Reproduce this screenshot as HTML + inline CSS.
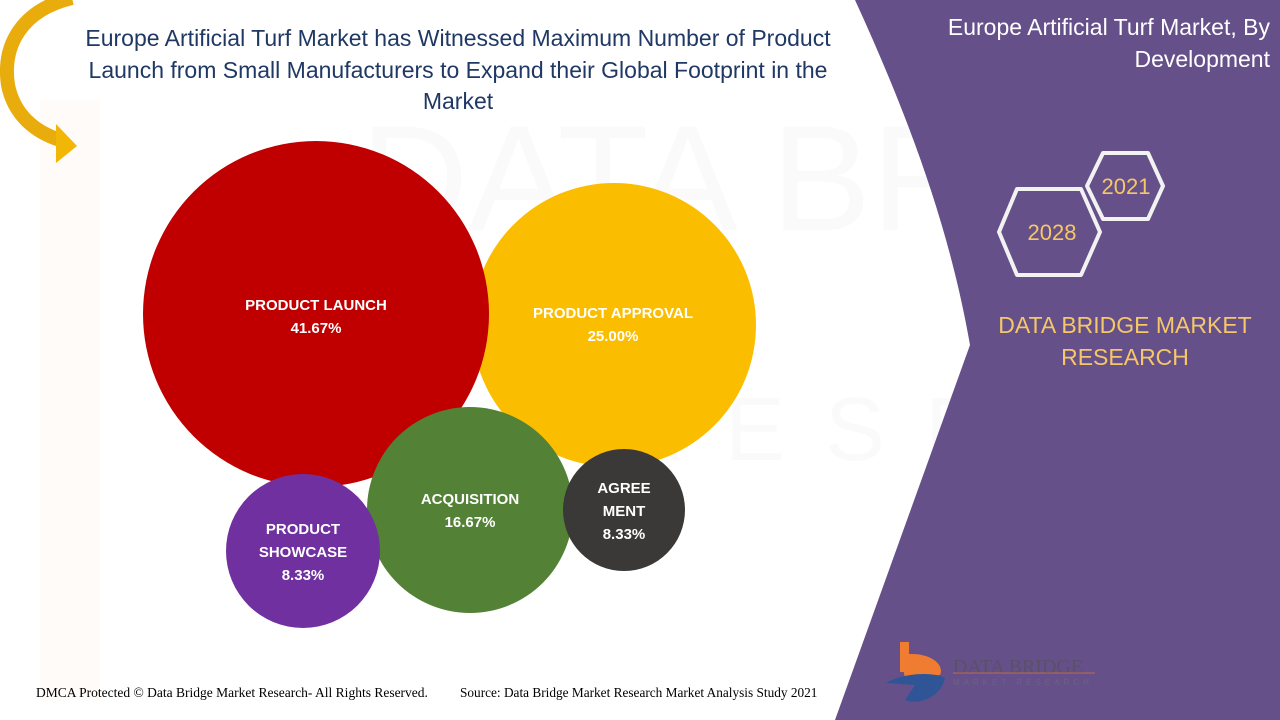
<!DOCTYPE html>
<html><head><meta charset="utf-8"><style>
body{margin:0;width:1280px;height:720px;overflow:hidden;background:#fff;font-family:"Liberation Sans",sans-serif;}
</style></head><body>
<svg width="1280" height="720" viewBox="0 0 1280 720" xmlns="http://www.w3.org/2000/svg" style="position:absolute;left:0;top:0">
<g opacity="0.025" fill="#666">
<text x="360" y="230" font-size="150" font-family="Liberation Sans">DATA BRIDGE</text>
<text x="620" y="460" font-size="90" letter-spacing="40" font-family="Liberation Sans">RESEARCH</text>
</g>
<rect x="40" y="100" width="60" height="600" fill="#f3a36b" opacity="0.04"/>
<path d="M855,0 L1280,0 L1280,720 L835,720 L970,345 C950,230 910,120 855,0 Z" fill="#65508a"/>
<!-- arrow -->
<path d="M72,-2 C22,10 2,45 8,85 C14,115 35,132 60,140" fill="none" stroke="#e8ad0c" stroke-width="14"/>
<polygon points="56,124 77,146 56,163" fill="#f2b705"/>
<g font-family="Liberation Sans" font-size="23" fill="#1f3864" text-anchor="middle">
<text x="458" y="46">Europe Artificial Turf Market has Witnessed Maximum Number of Product</text>
<text x="458" y="78">Launch from Small Manufacturers to Expand their Global Footprint in the</text>
<text x="458" y="109">Market</text>
</g>
<circle cx="614" cy="325" r="142" fill="#fbbd00"/>
<circle cx="316" cy="314" r="173" fill="#c00000"/>
<circle cx="470" cy="510" r="103" fill="#538135"/>
<circle cx="303" cy="551" r="77" fill="#7030a0"/>
<circle cx="624" cy="510" r="61" fill="#3b3838"/>
<g font-family="Liberation Sans" font-weight="bold" font-size="15" fill="#fff" text-anchor="middle">
<text x="316" y="310">PRODUCT LAUNCH</text><text x="316" y="333">41.67%</text>
<text x="613" y="318">PRODUCT APPROVAL</text><text x="613" y="341">25.00%</text>
<text x="470" y="504">ACQUISITION</text><text x="470" y="527">16.67%</text>
<text x="303" y="534">PRODUCT</text><text x="303" y="557">SHOWCASE</text><text x="303" y="580">8.33%</text>
<text x="624" y="493">AGREE</text><text x="624" y="516">MENT</text><text x="624" y="539">8.33%</text>
</g>
<g font-family="Liberation Sans" font-size="23" fill="#fff" text-anchor="end">
<text x="1270" y="35">Europe Artificial Turf Market, By</text>
<text x="1270" y="67">Development</text>
</g>
<polygon points="1103,153 1148,153 1163,186 1148,219 1103,219 1087,186" fill="none" stroke="#f2f2f2" stroke-width="4" stroke-linejoin="round"/>
<polygon points="1017,189 1081,189 1100,232 1081,275 1017,275 999,232" fill="none" stroke="#f2f2f2" stroke-width="4" stroke-linejoin="round"/>
<text x="1126" y="194" font-size="22" fill="#f5c768" text-anchor="middle" font-family="Liberation Sans">2021</text>
<text x="1052" y="240" font-size="22" fill="#f5c768" text-anchor="middle" font-family="Liberation Sans">2028</text>
<g font-family="Liberation Sans" font-size="23" fill="#f5c768" text-anchor="middle">
<text x="1125" y="333">DATA BRIDGE MARKET</text>
<text x="1125" y="365">RESEARCH</text>
</g>
<rect x="900" y="642" width="9" height="30" fill="#f07c32"/>
<path d="M900,655 C930,650 945,665 940,675 L905,678 Z" fill="#f07c32"/>
<path d="M886,683 C905,672 935,672 945,678 C940,700 915,705 905,700 L915,685 Z" fill="#2f5597"/>
<text x="953" y="673" font-size="20" fill="#5a5068" font-family="Liberation Serif">DATA BRIDGE</text>
<line x1="953" y1="673" x2="1095" y2="673" stroke="#c06a50" stroke-width="1"/>
<text x="953" y="685" font-size="8" letter-spacing="4" fill="#6d6280" font-family="Liberation Sans">MARKET RESEARCH</text>
<text x="36" y="697" font-size="13.5" fill="#000" font-family="Liberation Serif">DMCA Protected © Data Bridge Market Research- All Rights Reserved.</text>
<text x="460" y="697" font-size="13.3" fill="#000" font-family="Liberation Serif">Source: Data Bridge Market Research Market Analysis Study 2021</text>
</svg>
</body></html>
